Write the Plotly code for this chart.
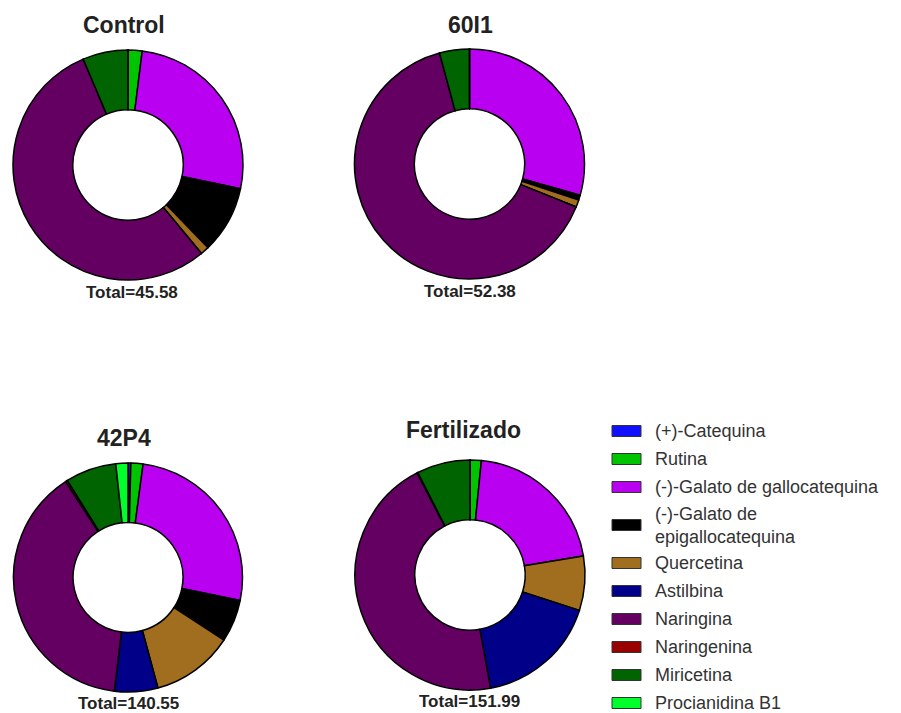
import plotly.graph_objects as go

compounds = [
    "(+)-Catequina",
    "Rutina",
    "(-)-Galato de gallocatequina",
    "(-)-Galato de<br>epigallocatequina",
    "Quercetina",
    "Astilbina",
    "Naringina",
    "Naringenina",
    "Miricetina",
    "Procianidina B1",
]
colors = ["#1010FF", "#00C400", "#BA00F0", "#000000", "#A06E1E",
          "#000088", "#640062", "#990000", "#006400", "#00FF2A"]

groups = ["Control", "60I1", "42P4", "Fertilizado"]
totals = ["Total=45.58", "Total=52.38", "Total=140.55", "Total=151.99"]

# concentrations per compound, same order as `compounds`
control = [0.0, 0.9, 12.0, 4.3, 0.55, 0.0, 24.9, 0.0, 2.9, 0.0]
i60i1 = [0.0, 0.0, 15.4, 0.35, 0.55, 0.0, 33.9, 0.0, 2.2, 0.0]
p42p4 = [0.56, 2.4, 36.7, 8.4, 16.3, 8.6, 54.7, 0.4, 10.1, 2.4]
fertilizado = [0.0, 2.4, 31.6, 0.0, 11.6, 26.1, 68.8, 0.2, 11.4, 0.0]
series = [control, i60i1, p42p4, fertilizado]

# the page body adds an 8px margin, so the figure is a bit smaller than the window
W, H = 893, 705


def px(x):
    return (x - 8) / W


def py(y):
    return 1 - (y - 8) / H


# pie boxes in window pixels: (left, right, top, bottom)
boxes = [(13, 243, 50, 280), (354, 585, 49, 279), (13, 243, 463, 692), (355, 585, 460, 690)]
title_pos = [(124, 25), (471, 25), (124, 438), (463, 430)]
total_pos = [(132, 292), (470, 291), (128, 703), (469, 701)]

fig = go.Figure()
for name, vals, (l, r, t, b) in zip(groups, series, boxes):
    fig.add_trace(go.Pie(
        labels=compounds,
        values=vals,
        name=name,
        domain={"x": [px(l), px(r)], "y": [py(b), py(t)]},
        hole=0.48,
        sort=False,
        direction="clockwise",
        rotation=0,
        textinfo="none",
        marker={"colors": colors, "line": {"color": "black", "width": 1.5}},
        showlegend=False,
    ))

for name, (x, y) in zip(groups, title_pos):
    fig.add_annotation(x=px(x), y=py(y), xref="paper", yref="paper", text=f"<b>{name}</b>",
                       showarrow=False, xanchor="center", yanchor="middle",
                       font={"size": 23, "color": "#222222"})
for txt, (x, y) in zip(totals, total_pos):
    fig.add_annotation(x=px(x), y=py(y), xref="paper", yref="paper", text=f"<b>{txt}</b>",
                       showarrow=False, xanchor="center", yanchor="middle",
                       font={"size": 17, "color": "#222222"})

# hand-drawn legend
row_y = 431
for label, color in zip(compounds, colors):
    two_lines = "<br>" in label
    cy = row_y + (10 if two_lines else 0)
    fig.add_shape(type="rect", xref="paper", yref="paper",
                  x0=px(612), x1=px(641), y0=py(cy + 5.5), y1=py(cy - 5.5),
                  fillcolor=color, line={"color": "#333333", "width": 1})
    fig.add_annotation(x=px(653), y=py(cy), xref="paper", yref="paper",
                       text=label, showarrow=False, xanchor="left", yanchor="middle",
                       align="left", font={"size": 18, "color": "#333333"})
    row_y += 48 if two_lines else 28

fig.update_layout(
    width=W, height=H,
    margin={"l": 0, "r": 0, "t": 0, "b": 0},
    paper_bgcolor="white",
    font={"family": "Liberation Sans, Arial, sans-serif"},
    showlegend=False,
)

fig.write_html("out.html")
